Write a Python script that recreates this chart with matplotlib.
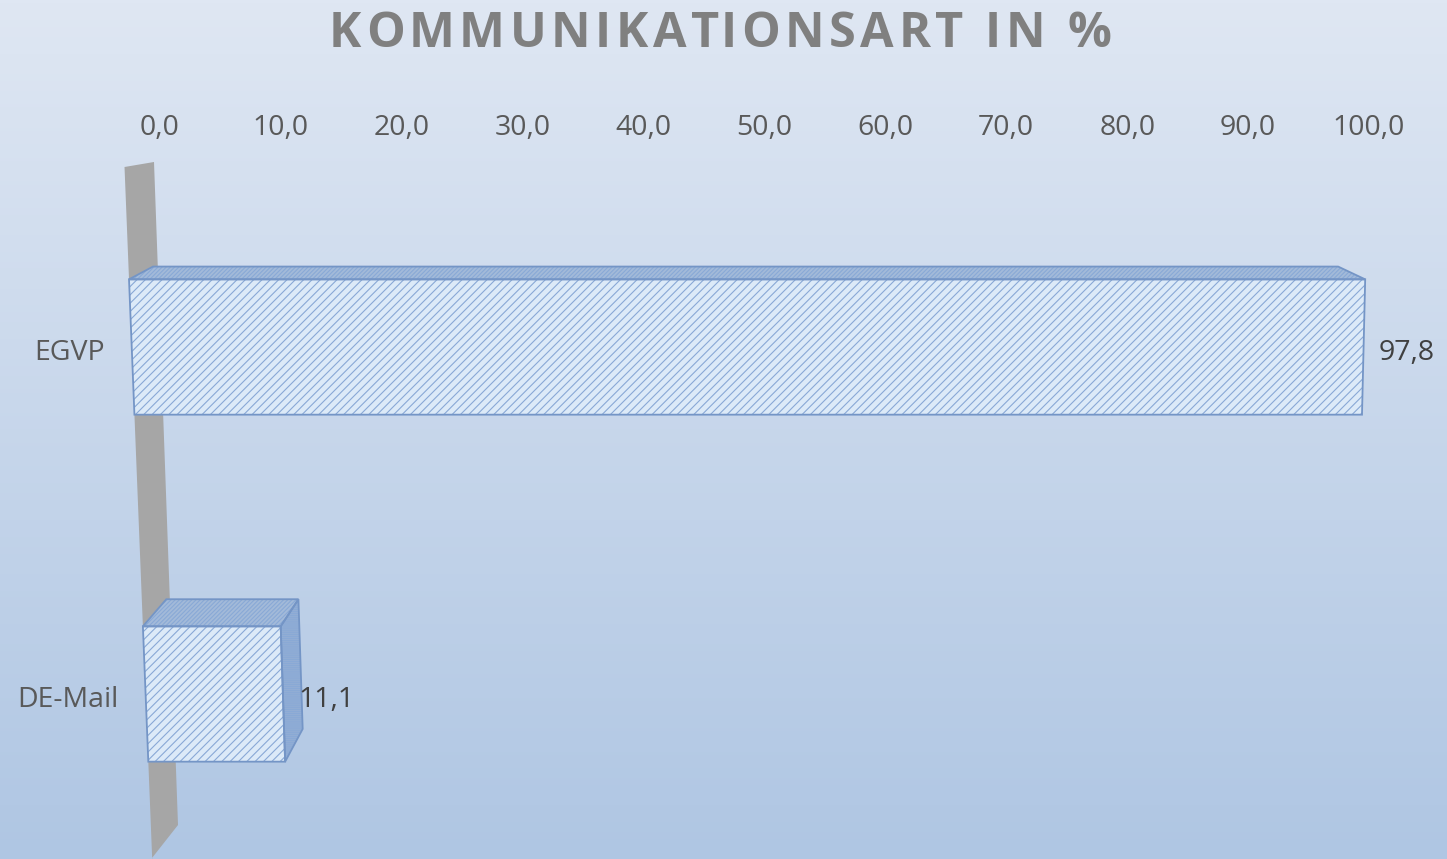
import numpy as np
import matplotlib
matplotlib.use("Agg")
import matplotlib.pyplot as plt
from matplotlib.patches import Polygon
from matplotlib.colors import LinearSegmentedColormap
from matplotlib.font_manager import FontProperties

# ---- data ----
title = "KOMMUNIKATIONSART IN %"
categories = ["EGVP", "DE-Mail"]
values = [97.8, 11.1]
value_labels = ["97,8", "11,1"]
ticks = [0, 10, 20, 30, 40, 50, 60, 70, 80, 90, 100]
tick_labels = ["0,0", "10,0", "20,0", "30,0", "40,0", "50,0", "60,0",
               "70,0", "80,0", "90,0", "100,0"]

W, H = 1447, 859
DPI = 100
plt.rcParams['font.family'] = ['Open Sans', 'DejaVu Sans']
plt.rcParams['hatch.linewidth'] = 0.8

fig = plt.figure(figsize=(W / DPI, H / DPI), dpi=DPI)

# background gradient
bg = fig.add_axes([0, 0, 1, 1], zorder=0)
cmap = LinearSegmentedColormap.from_list("bg", ["#dfe7f3", "#afc6e3"])
bg.imshow(np.linspace(0, 1, 256).reshape(-1, 1), aspect="auto", cmap=cmap,
          extent=[0, 1, 0, 1], origin="upper")
bg.set_axis_off()

# main axes: x in percent (front plane), y in category index
X0, S0 = 129.0, 12.64      # pixel of value 0, pixels per unit at reference
Y0, HS = 347.0, 347.0      # pixel of category 0, pixels per category step
ax = fig.add_axes([0, 0, 1, 1], zorder=1)
ax.set_xlim((0 - X0) / S0, (W - X0) / S0)
ax.set_ylim((H - Y0) / HS, (0 - Y0) / HS)
ax.set_axis_off()
ax.patch.set_alpha(0)

VPX, VPY, K = 710.0, -30.0, 0.9587   # perspective of depth


def px2d(xpx, ypx):
    return ((xpx - X0) / S0, (ypx - Y0) / HS)


def proj(v, yd, z):
    """3D-ish projection returning axes data coords."""
    ypx = Y0 + HS * yd
    xpx = X0 + 0.04 * (ypx - 279) + (S0 - 0.00065 * (ypx - 279)) * v
    if z:
        xpx = VPX + (xpx - VPX) * K
        ypx = VPY + (ypx - VPY) * K
    return px2d(xpx, ypx)


# side wall of the value axis (decoration)
wall = [px2d(124, 167), px2d(154, 162), px2d(178, 825), px2d(152, 857),
        px2d(152.1, 870), px2d(120, 870)]
wall = [proj(0, (167 - Y0) / HS, 0), px2d(154, 162), px2d(178, 825),
        px2d(152, 858), proj(0, (880 - Y0) / HS, 0)]
ax.add_patch(Polygon(wall, closed=True, facecolor="#a6a6a6", edgecolor="none",
                     zorder=2))

half = 0.195
hatch_col = "#89a9d6"
edge_col = "#7495c6"

for i, (v, lab) in enumerate(zip(values, value_labels)):
    yt, yb = i - half, i + half
    ftl, ftr = proj(0, yt, 0), proj(v, yt, 0)
    fbl, fbr = proj(0, yb, 0), proj(v, yb, 0)
    btl, btr = proj(0, yt, 1), proj(v, yt, 1)
    bbr = proj(v, yb, 1)
    faces = []
    if btr[0] > ftr[0]:
        faces.append(([ftr, fbr, bbr, btr], "#93aed4", "--------"))
    faces.append(([ftl, ftr, btr, btl], "#a3bad9", "////////"))
    faces.append(([ftl, ftr, fbr, fbl], "#dceaf8", "////"))
    for pts, fc, hatch in faces:
        ax.add_patch(Polygon(pts, closed=True, facecolor=fc, edgecolor=hatch_col,
                             hatch=hatch, linewidth=0, zorder=3))
        ax.add_patch(Polygon(pts, closed=True, fill=False, edgecolor=edge_col,
                             linewidth=1.3, zorder=4))
    # data label
    base = i + 13 / HS
    xr = proj(v, i, 0)[0]
    ax.text(xr + 1.2, base, lab, ha="left", va="baseline", fontsize=20.5,
            color="#404040", zorder=5)
    # category label
    ax.text(proj(0, i, 0)[0] - 2.1, base, categories[i], ha="right",
            va="baseline", fontsize=20.5, color="#595959", zorder=5)

# top value axis (tick labels on the back plane)
tx = fig.add_axes([0, 0, 1, 1], zorder=2)
tx.set_xlim((0 - 160) / 12.09, (W - 160) / 12.09)
tx.set_ylim(H, 0)
tx.set_axis_off()
tx.patch.set_alpha(0)
for t, tl in zip(ticks, tick_labels):
    tx.text(t, 135, tl, ha="center", va="baseline", fontsize=20.5,
            color="#595959")

# title with letter spacing
fp = FontProperties(family=['Open Sans', 'DejaVu Sans'], weight='bold', size=35)
renderer = fig.canvas.get_renderer()
def wpx(s):
    if not s:
        return 0.0
    return renderer.get_text_width_height_descent(s, fp, ismath=False)[0]
spacing = 4.6
total = wpx(title) + spacing * (len(title) - 1)
x_start = 720 - total / 2
for k, ch in enumerate(title):
    xk = x_start + wpx(title[:k]) + spacing * k
    fig.text(xk / W, 1 - 47 / H, ch, ha="left", va="baseline",
             fontproperties=fp, color="#808080")

fig.savefig("out.png", dpi=DPI)
